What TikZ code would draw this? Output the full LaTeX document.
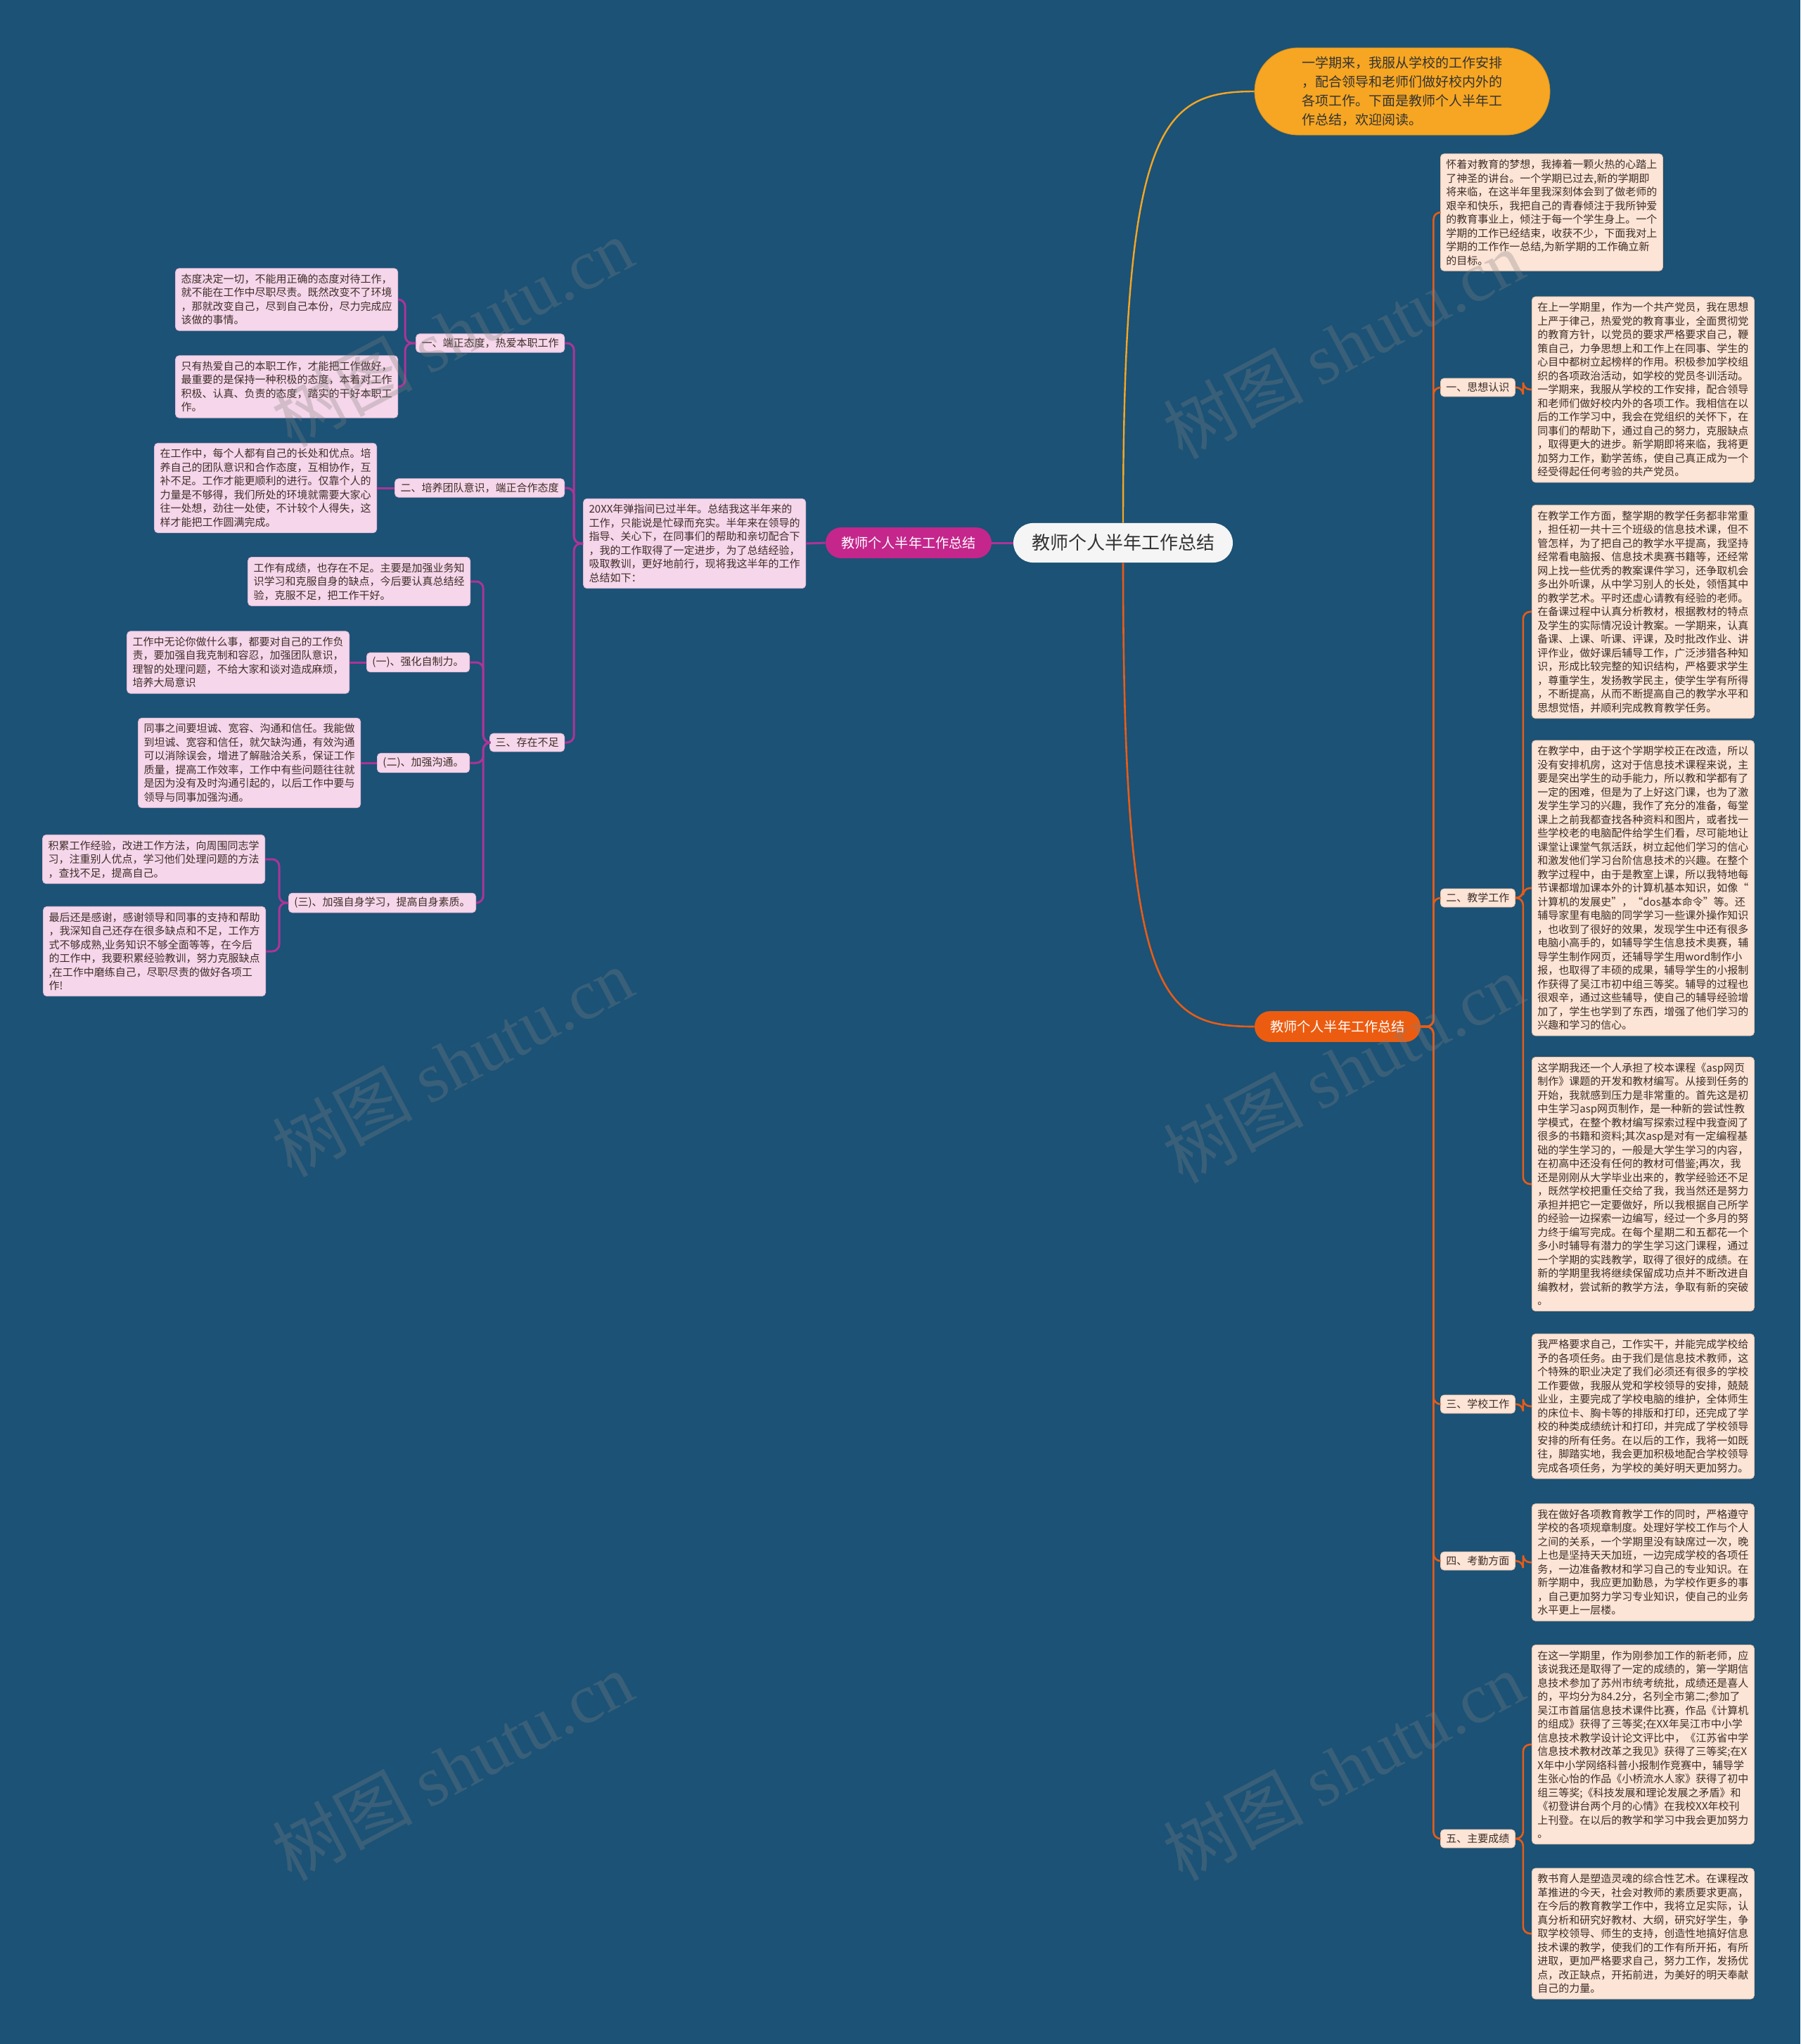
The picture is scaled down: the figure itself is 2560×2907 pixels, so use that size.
\documentclass[tikz,border=0pt]{standalone}
\usepackage{fontspec}
\setmainfont{Noto Sans CJK SC}
\newfontfamily\wmlatin{Liberation Serif}
\usepackage{tikz}
\definecolor{bgblue}{RGB}{27,82,118}
\definecolor{peachfill}{RGB}{252,228,214}
\definecolor{peachedge}{RGB}{236,196,170}
\definecolor{pinkfill}{RGB}{246,214,234}
\definecolor{pinkedge}{RGB}{226,186,214}
\definecolor{magline}{RGB}{172,52,152}
\definecolor{magnode}{RGB}{196,38,140}
\definecolor{redline}{RGB}{232,92,22}
\definecolor{rednode}{RGB}{236,92,16}
\definecolor{yelnode}{RGB}{246,166,34}
\definecolor{boxtext}{RGB}{62,46,40}

\begin{document}
\begin{tikzpicture}[x=0.5pt,y=-0.5pt]
\tikzstyle{every node}+=[inner sep=0pt, font=\fontsize{7.5}{9.75}\selectfont, text=boxtext]
\tikzstyle{peachbox}=[fill=peachfill, draw=peachedge, line width=0.4pt, rounded corners=2.5pt, inner xsep=4pt, inner ysep=4pt, align=left]
\tikzstyle{pinkbox}=[fill=pinkfill, draw=pinkedge, line width=0.4pt, rounded corners=2.5pt, inner xsep=4pt, inner ysep=4pt, align=left]
\tikzstyle{peachtag}=[peachbox, inner ysep=3pt]
\tikzstyle{pinktag}=[pinkbox, inner ysep=3pt]
\tikzstyle{lline}=[magline, line width=1.5pt, rounded corners=5pt]
\tikzstyle{rline}=[redline, line width=1.3pt, rounded corners=5pt]
\tikzstyle{yline}=[yelnode, line width=1.2pt]
\tikzstyle{wmtext}=[rotate=28, opacity=0.3, text=gray, font=\fontsize{50}{50}\selectfont]
\fill [bgblue] (0,0) rectangle (2560,2907);
\useasboundingbox (0,0) rectangle (2560,2907);

\draw (1597,772) node [fill=white!96!black, rounded corners=14pt, inner xsep=13pt, inner ysep=8pt, font=\fontsize{13}{15}\selectfont, text=black!80] (root) {教师个人半年工作总结};
\draw (1994,130) node [fill=yelnode, draw=yelnode!85!black, line width=0.4pt, rounded corners=31pt, minimum width=210pt, minimum height=62pt, align=left, font=\fontsize{9.5}{13.5}\selectfont, text=black!80] (top) {一学期来，我服从学校的工作安排\\，配合领导和老师们做好校内外的\\各项工作。下面是教师个人半年工\\作总结，欢迎阅读。};
\draw (1292,772) node [fill=magnode, rounded corners=11pt, inner xsep=11pt, inner ysep=6.5pt, font=\fontsize{9.6}{11}\selectfont, text=white] (lroot) {教师个人半年工作总结};
\draw (1902,1460) node [fill=rednode, rounded corners=11pt, inner xsep=11pt, inner ysep=6.5pt, font=\fontsize{9.6}{11}\selectfont, text=white] (rroot) {教师个人半年工作总结};

\draw (1146,773) node [pinkbox, anchor=east] (intro) {20XX年弹指间已过半年。总结我这半年来的\\工作，只能说是忙碌而充实。半年来在领导的\\指导、关心下，在同事们的帮助和亲切配合下\\，我的工作取得了一定进步，为了总结经验，\\吸取教训，更好地前行，现将我这半年的工作\\总结如下：};
\draw (803,488) node [pinktag, anchor=east] (b1) {一、端正态度，热爱本职工作};
\draw (803,694) node [pinktag, anchor=east] (b2) {二、培养团队意识，端正合作态度};
\draw (803,1056) node [pinktag, anchor=east] (b3) {三、存在不足};
\draw (566,426) node [pinkbox, anchor=east] (l1a) {态度决定一切，不能用正确的态度对待工作，\\就不能在工作中尽职尽责。既然改变不了环境\\，那就改变自己，尽到自己本份，尽力完成应\\该做的事情。};
\draw (566,550) node [pinkbox, anchor=east] (l1b) {只有热爱自己的本职工作，才能把工作做好，\\最重要的是保持一种积极的态度，本着对工作\\积极、认真、负责的态度，踏实的干好本职工\\作。};
\draw (536,694) node [pinkbox, anchor=east] (l2) {在工作中，每个人都有自己的长处和优点。培\\养自己的团队意识和合作态度，互相协作，互\\补不足。工作才能更顺利的进行。仅靠个人的\\力量是不够得，我们所处的环境就需要大家心\\往一处想，劲往一处使，不计较个人得失，这\\样才能把工作圆满完成。};
\draw (669,827) node [pinkbox, anchor=east] (l3a) {工作有成绩，也存在不足。主要是加强业务知\\识学习和克服自身的缺点，今后要认真总结经\\验，克服不足，把工作干好。};
\draw (668,942) node [pinktag, anchor=east] (s1) {(一)、强化自制力。};
\draw (668,1085) node [pinktag, anchor=east] (s2) {(二)、加强沟通。};
\draw (677,1284) node [pinktag, anchor=east] (s3) {(三)、加强自身学习，提高自身素质。};
\draw (497,942) node [pinkbox, anchor=east] (ls1) {工作中无论你做什么事，都要对自己的工作负\\责，要加强自我克制和容忍，加强团队意识，\\理智的处理问题，不给大家和谈对造成麻烦，\\培养大局意识};
\draw (513,1085) node [pinkbox, anchor=east] (ls2) {同事之间要坦诚、宽容、沟通和信任。我能做\\到坦诚、宽容和信任，就欠缺沟通，有效沟通\\可以消除误会，增进了解融洽关系，保证工作\\质量，提高工作效率，工作中有些问题往往就\\是因为没有及时沟通引起的，以后工作中要与\\领导与同事加强沟通。};
\draw (377,1222) node [pinkbox, anchor=east] (l3c) {积累工作经验，改进工作方法，向周围同志学\\习，注重别人优点，学习他们处理问题的方法\\，查找不足，提高自己。};
\draw (378,1353) node [pinkbox, anchor=east] (l3d) {最后还是感谢，感谢领导和同事的支持和帮助\\，我深知自己还存在很多缺点和不足，工作方\\式不够成熟,业务知识不够全面等等，在今后\\的工作中，我要积累经验教训，努力克服缺点\\,在工作中磨练自己，尽职尽责的做好各项工\\作!};

\draw (2048,302) node [peachbox, anchor=west] (rb0) {怀着对教育的梦想，我捧着一颗火热的心踏上\\了神圣的讲台。一个学期已过去,新的学期即\\将来临，在这半年里我深刻体会到了做老师的\\艰辛和快乐，我把自己的青春倾注于我所钟爱\\的教育事业上，倾注于每一个学生身上。一个\\学期的工作已经结束，收获不少，下面我对上\\学期的工作作一总结,为新学期的工作确立新\\的目标。};
\draw (2048,551) node [peachtag, anchor=west] (rl1) {一、思想认识};
\draw (2048,1277) node [peachtag, anchor=west] (rl2) {二、教学工作};
\draw (2048,1997) node [peachtag, anchor=west] (rl3) {三、学校工作};
\draw (2048,2220) node [peachtag, anchor=west] (rl4) {四、考勤方面};
\draw (2048,2615) node [peachtag, anchor=west] (rl5) {五、主要成绩};
\draw (2178,554) node [peachbox, anchor=west] (rb1) {在上一学期里，作为一个共产党员，我在思想\\上严于律己，热爱党的教育事业，全面贯彻党\\的教育方针，以党员的要求严格要求自己，鞭\\策自己，力争思想上和工作上在同事、学生的\\心目中都树立起榜样的作用。积极参加学校组\\织的各项政治活动，如学校的党员冬训活动。\\一学期来，我服从学校的工作安排，配合领导\\和老师们做好校内外的各项工作。我相信在以\\后的工作学习中，我会在党组织的关怀下，在\\同事们的帮助下，通过自己的努力，克服缺点\\，取得更大的进步。新学期即将来临，我将更\\加努力工作，勤学苦练，使自己真正成为一个\\经受得起任何考验的共产党员。};
\draw (2178,870) node [peachbox, anchor=west] (rb2a) {在教学工作方面，整学期的教学任务都非常重\\，担任初一共十三个班级的信息技术课，但不\\管怎样，为了把自己的教学水平提高，我坚持\\经常看电脑报、信息技术奥赛书籍等，还经常\\网上找一些优秀的教案课件学习，还争取机会\\多出外听课，从中学习别人的长处，领悟其中\\的教学艺术。平时还虚心请教有经验的老师。\\在备课过程中认真分析教材，根据教材的特点\\及学生的实际情况设计教案。一学期来，认真\\备课、上课、听课、评课，及时批改作业、讲\\评作业，做好课后辅导工作，广泛涉猎各种知\\识，形成比较完整的知识结构，严格要求学生\\，尊重学生，发扬教学民主，使学生学有所得\\，不断提高，从而不断提高自己的教学水平和\\思想觉悟，并顺利完成教育教学任务。};
\draw (2178,1263) node [peachbox, anchor=west] (rb2b) {在教学中，由于这个学期学校正在改造，所以\\没有安排机房，这对于信息技术课程来说，主\\要是突出学生的动手能力，所以教和学都有了\\一定的困难，但是为了上好这门课，也为了激\\发学生学习的兴趣，我作了充分的准备，每堂\\课上之前我都查找各种资料和图片，或者找一\\些学校老的电脑配件给学生们看，尽可能地让\\课堂让课堂气氛活跃，树立起他们学习的信心\\和激发他们学习台阶信息技术的兴趣。在整个\\教学过程中，由于是教室上课，所以我特地每\\节课都增加课本外的计算机基本知识，如像“\\计算机的发展史”，“dos基本命令”等。还\\辅导家里有电脑的同学学习一些课外操作知识\\，也收到了很好的效果，发现学生中还有很多\\电脑小高手的，如辅导学生信息技术奥赛，辅\\导学生制作网页，还辅导学生用word制作小\\报，也取得了丰硕的成果，辅导学生的小报制\\作获得了吴江市初中组三等奖。辅导的过程也\\很艰辛，通过这些辅导，使自己的辅导经验增\\加了，学生也学到了东西，增强了他们学习的\\兴趣和学习的信心。};
\draw (2178,1684) node [peachbox, anchor=west] (rb2c) {这学期我还一个人承担了校本课程《asp网页\\制作》课题的开发和教材编写。从接到任务的\\开始，我就感到压力是非常重的。首先这是初\\中生学习asp网页制作，是一种新的尝试性教\\学模式，在整个教材编写探索过程中我查阅了\\很多的书籍和资料;其次asp是对有一定编程基\\础的学生学习的，一般是大学生学习的内容，\\在初高中还没有任何的教材可借鉴;再次，我\\还是刚刚从大学毕业出来的，教学经验还不足\\，既然学校把重任交给了我，我当然还是努力\\承担并把它一定要做好，所以我根据自己所学\\的经验一边探索一边编写，经过一个多月的努\\力终于编写完成。在每个星期二和五都花一个\\多小时辅导有潜力的学生学习这门课程，通过\\一个学期的实践教学，取得了很好的成绩。在\\新的学期里我将继续保留成功点并不断改进自\\编教材，尝试新的教学方法，争取有新的突破\\。};
\draw (2178,2000) node [peachbox, anchor=west] (rb3) {我严格要求自己，工作实干，并能完成学校给\\予的各项任务。由于我们是信息技术教师，这\\个特殊的职业决定了我们必须还有很多的学校\\工作要做，我服从党和学校领导的安排，兢兢\\业业，主要完成了学校电脑的维护，全体师生\\的床位卡、胸卡等的排版和打印，还完成了学\\校的种类成绩统计和打印，并完成了学校领导\\安排的所有任务。在以后的工作，我将一如既\\往，脚踏实地，我会更加积极地配合学校领导\\完成各项任务，为学校的美好明天更加努力。};
\draw (2178,2222) node [peachbox, anchor=west] (rb4) {我在做好各项教育教学工作的同时，严格遵守\\学校的各项规章制度。处理好学校工作与个人\\之间的关系，一个学期里没有缺席过一次，晚\\上也是坚持天天加班，一边完成学校的各项任\\务，一边准备教材和学习自己的专业知识。在\\新学期中，我应更加勤恳，为学校作更多的事\\，自己更加努力学习专业知识，使自己的业务\\水平更上一层楼。};
\draw (2178,2481) node [peachbox, anchor=west] (rb5a) {在这一学期里，作为刚参加工作的新老师，应\\该说我还是取得了一定的成绩的，第一学期信\\息技术参加了苏州市统考统批，成绩还是喜人\\的，平均分为84.2分，名列全市第二;参加了\\吴江市首届信息技术课件比赛，作品《计算机\\的组成》获得了三等奖;在XX年吴江市中小学\\信息技术教学设计论文评比中，《江苏省中学\\信息技术教材改革之我见》获得了三等奖;在X\\X年中小学网络科普小报制作竞赛中，辅导学\\生张心怡的作品《小桥流水人家》获得了初中\\组三等奖;《科技发展和理论发展之矛盾》和\\《初登讲台两个月的心情》在我校XX年校刊\\上刊登。在以后的教学和学习中我会更加努力\\。};
\draw (2178,2750) node [peachbox, anchor=west] (rb5b) {教书育人是塑造灵魂的综合性艺术。在课程改\\革推进的今天，社会对教师的素质要求更高，\\在今后的教育教学工作中，我将立足实际，认\\真分析和研究好教材、大纲，研究好学生，争\\取学校领导、师生的支持，创造性地搞好信息\\技术课的教学，使我们的工作有所开拓，有所\\进取，更加严格要求自己，努力工作，发扬优\\点，改正缺点，开拓前进，为美好的明天奉献\\自己的力量。};

\draw [yline] (root.north) .. controls (1597,180) and (1650,130) .. (top.west);
\draw [rline] (root.south) .. controls (1597,1420) and (1650,1460) .. (rroot.west);
\draw [lline] (root.west) -- (lroot.east);
\draw [lline] (lroot.west) -- (intro.east);
\draw [lline] (intro.west) -- ++(-13,0) |- (b1.east);
\draw [lline] (intro.west) -- ++(-13,0) |- (b2.east);
\draw [lline] (intro.west) -- ++(-13,0) |- (b3.east);
\draw [lline] (b1.west) -- ++(-15,0) |- (l1a.east);
\draw [lline] (b1.west) -- ++(-15,0) |- (l1b.east);
\draw [lline] (b2.west) -- (l2.east);
\draw [lline] (b3.west) -- ++(-9,0) |- (l3a.east);
\draw [lline] (b3.west) -- ++(-9,0) |- (s1.east);
\draw [lline] (b3.west) -- ++(-9,0) |- (s2.east);
\draw [lline] (b3.west) -- ++(-9,0) |- (s3.east);
\draw [lline] (s1.west) -- (ls1.east);
\draw [lline] (s2.west) -- (ls2.east);
\draw [lline] (s3.west) -- ++(-13,0) |- (l3c.east);
\draw [lline] (s3.west) -- ++(-13,0) |- (l3d.east);
\draw [rline] (rroot.east) -- ++(18,0) |- (rb0.west);
\draw [rline] (rroot.east) -- ++(18,0) |- (rl1.west);
\draw [rline] (rroot.east) -- ++(18,0) |- (rl2.west);
\draw [rline] (rroot.east) -- ++(18,0) |- (rl3.west);
\draw [rline] (rroot.east) -- ++(18,0) |- (rl4.west);
\draw [rline] (rroot.east) -- ++(18,0) |- (rl5.west);
\draw [rline] (rl1.east) -- ++(11,0) |- (rb1.west);
\draw [rline] (rl2.east) -- ++(11,0) |- (rb2a.west);
\draw [rline] (rl2.east) -- ++(11,0) |- (rb2b.west);
\draw [rline] (rl2.east) -- ++(11,0) |- (rb2c.west);
\draw [rline] (rl3.east) -- ++(11,0) |- (rb3.west);
\draw [rline] (rl4.east) -- ++(11,0) |- (rb4.west);
\draw [rline] (rl5.east) -- ++(11,0) |- (rb5a.west);
\draw [rline] (rl5.east) -- ++(11,0) |- (rb5b.west);

\draw (643,473) node [wmtext] (wm1) {树图 {\wmlatin shutu.cn}};
\draw (1910,490) node [wmtext] (wm2) {树图 {\wmlatin shutu.cn}};
\draw (643,1511) node [wmtext] (wm3) {树图 {\wmlatin shutu.cn}};
\draw (1910,1520) node [wmtext] (wm4) {树图 {\wmlatin shutu.cn}};
\draw (643,2512) node [wmtext] (wm5) {树图 {\wmlatin shutu.cn}};
\draw (1910,2512) node [wmtext] (wm6) {树图 {\wmlatin shutu.cn}};
\end{tikzpicture}
\end{document}
